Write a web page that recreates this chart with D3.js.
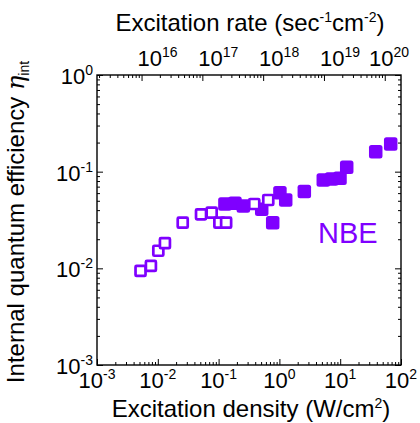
<!DOCTYPE html>
<html>
<head>
<meta charset="utf-8">
<script src="https://cdn.jsdelivr.net/npm/d3@7"></script>
<style>
  body { margin: 0; background: #fff; }
  text { font-family: "Liberation Sans", Arial, sans-serif; fill: #000; }
</style>
</head>
<body>
<svg id="chart" width="420" height="423"></svg>
<script>
// tick values
const densityTicks = [1e-3, 1e-2, 1e-1, 1e0, 1e1, 1e2];
const effTicks = [1e-3, 1e-2, 1e-1, 1e0];
const rateTicks = [1e16, 1e17, 1e18, 1e19, 1e20];
const photonsPerJoule = 1.85e18; // 1 / (3.37 eV)

// open squares (low excitation)
const openDensity = [0.0052, 0.0077, 0.0102, 0.0131, 0.0257, 0.0514, 0.0769, 0.103, 0.133, 0.386, 0.656];
const openEff = [0.0094, 0.0106, 0.0152, 0.0182, 0.0297, 0.0362, 0.0377, 0.0297, 0.0297, 0.0463, 0.0509];

// filled squares (high excitation)
const filledDensity = [0.127, 0.186, 0.255, 0.512, 0.776, 1.02, 1.27, 2.57, 5.27, 7.24, 9.93, 12.8, 38.4, 67.7];
const filledEff = [0.0463, 0.0471, 0.0442, 0.0408, 0.0297, 0.0607, 0.0509, 0.0624, 0.082, 0.0841, 0.0855, 0.111, 0.161, 0.193];

const seriesLabel = 'NBE';
const purple = '#7f00ff';

const svg = d3.select('#chart');
const plotL = 97, plotR = 401, plotT = 75, plotB = 365;
const tickFont = 22, supFont = 14, titleFont = 24;

const x = d3.scaleLog().domain([1e-3, 1e2]).range([plotL, plotR]);
const xTop = d3.scaleLog()
    .domain([1e-3 * photonsPerJoule, 1e2 * photonsPerJoule])
    .range([plotL, plotR]);
const y = d3.scaleLog().domain([1e-3, 1]).range([plotB, plotT]);

function isMajor(v) {
    let l = Math.log10(v);
    return Math.abs(l - Math.round(l)) < 1e-6;
}

// ticks, all pointing inward
function drawTicks(axisFn, scale, transform) {
    let minor = scale.ticks().filter(v => !isMajor(v));
    let major = scale.ticks().filter(isMajor);
    [[minor, 3], [major, 6]].forEach(function (pair) {
        svg.append('g')
            .attr('transform', transform)
            .call(axisFn(scale).tickValues(pair[0]).tickSize(-pair[1]).tickFormat(''))
            .call(g => g.select('.domain').remove())
            .call(g => g.selectAll('line').attr('stroke', '#000').attr('stroke-width', 1));
    });
}
drawTicks(d3.axisBottom, x, `translate(0,${plotB})`);
drawTicks(d3.axisTop, xTop, `translate(0,${plotT})`);
drawTicks(d3.axisLeft, y, `translate(${plotL},0)`);
drawTicks(d3.axisRight, y, `translate(${plotR},0)`);

svg.append('rect')
    .attr('x', plotL).attr('y', plotT)
    .attr('width', plotR - plotL).attr('height', plotB - plotT)
    .attr('fill', 'none').attr('stroke', '#000').attr('stroke-width', 1.4);

// power-of-ten label helper
function powLabel(sel, exp) {
    sel.append('tspan').text('10');
    sel.append('tspan').attr('dy', -9).attr('font-size', supFont).text(exp);
}

svg.selectAll('.xlab')
    .data(densityTicks)
    .enter().append('text')
    .attr('class', 'xlab')
    .attr('x', d => x(d))
    .attr('y', plotB + 23)
    .attr('text-anchor', 'middle')
    .attr('font-size', tickFont)
    .each(function (d) { powLabel(d3.select(this), Math.round(Math.log10(d))); });

svg.selectAll('.ylab')
    .data(effTicks)
    .enter().append('text')
    .attr('class', 'ylab')
    .attr('x', plotL - 4)
    .attr('y', d => y(d) + 9)
    .attr('text-anchor', 'end')
    .attr('font-size', tickFont)
    .each(function (d) { powLabel(d3.select(this), Math.round(Math.log10(d))); });

svg.selectAll('.toplab')
    .data(rateTicks)
    .enter().append('text')
    .attr('class', 'toplab')
    .attr('y', plotT - 9)
    .attr('text-anchor', 'middle')
    .attr('font-size', tickFont)
    .each(function (d) { powLabel(d3.select(this), Math.round(Math.log10(d))); })
    .attr('x', function (d) {
        let half = this.getComputedTextLength() / 2;
        return Math.min(xTop(d) + 16, 409 - half);
    });

// axis titles
let bt = svg.append('text')
    .attr('x', 251).attr('y', 417)
    .attr('text-anchor', 'middle').attr('font-size', titleFont);
bt.append('tspan').text('Excitation density (W/cm');
bt.append('tspan').attr('dy', -9).attr('font-size', supFont).text('2');
bt.append('tspan').attr('dy', 9).text(')');

let tt = svg.append('text')
    .attr('x', 250).attr('y', 31)
    .attr('text-anchor', 'middle').attr('font-size', titleFont);
tt.append('tspan').text('Excitation rate (sec');
tt.append('tspan').attr('dy', -9).attr('font-size', supFont).text('-1');
tt.append('tspan').attr('dy', 9).text('cm');
tt.append('tspan').attr('dy', -9).attr('font-size', supFont).text('-2');
tt.append('tspan').attr('dy', 9).text(')');

let yt = svg.append('text')
    .attr('transform', 'translate(24,222) rotate(-90)')
    .attr('text-anchor', 'middle').attr('font-size', titleFont);
yt.append('tspan').text('Internal quantum efficiency ');
yt.append('tspan').attr('font-style', 'italic').attr('font-family', '"DejaVu Serif", serif').text('\u03b7');
yt.append('tspan').attr('dy', 5).attr('font-size', supFont).text('int');

// markers
const filled = filledDensity.map((d, i) => ({ x: d, y: filledEff[i] }));
const open = openDensity.map((d, i) => ({ x: d, y: openEff[i] }));

svg.append('g').selectAll('rect')
    .data(filled)
    .enter().append('rect')
    .attr('x', d => x(d.x) - 6.75)
    .attr('y', d => y(d.y) - 6.75)
    .attr('width', 13.5).attr('height', 13.5)
    .attr('rx', 2.5)
    .attr('fill', purple);

svg.append('g').selectAll('rect')
    .data(open)
    .enter().append('rect')
    .attr('x', d => x(d.x) - 5)
    .attr('y', d => y(d.y) - 5)
    .attr('width', 10).attr('height', 10)
    .attr('rx', 1)
    .attr('fill', '#fff')
    .attr('stroke', purple)
    .attr('stroke-width', 2.7);

svg.append('text')
    .attr('x', 318).attr('y', 243)
    .attr('font-size', 29)
    .style('fill', purple)
    .text(seriesLabel);
</script>
</body>
</html>
